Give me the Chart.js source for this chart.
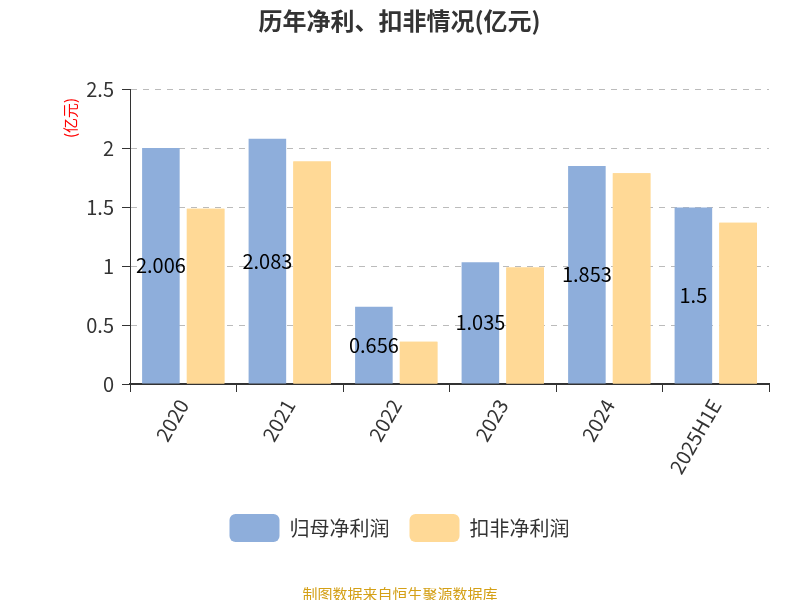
<!DOCTYPE html>
<html><head><meta charset="utf-8">
<script src="https://cdn.jsdelivr.net/npm/chart.js@4/dist/chart.umd.min.js"></script>
<style>html,body{margin:0;padding:0;background:#fff}#w{width:800px;height:600px;position:relative}</style>
</head><body><div id="w"><canvas id="c" width="800" height="600"></canvas></div>
<script>
const categories = ['2020','2021','2022','2023','2024','2025H1E'];
const netProfit = [2.006, 2.083, 0.656, 1.035, 1.853, 1.5];
const deductedProfit = [1.49, 1.89, 0.36, 0.99, 1.79, 1.37];
const seriesNames = ['归母净利润','扣非净利润'];
const FONT = '"Noto Sans CJK SC","Noto Sans",sans-serif';

const labelPlugin = {
  id: 'lbl',
  afterDatasetsDraw(chart) {
    const ctx = chart.ctx;
    const meta = chart.getDatasetMeta(0);
    ctx.save();
    ctx.font = '20px ' + FONT;
    ctx.fillStyle = '#000';
    ctx.textAlign = 'center';
    ctx.textBaseline = 'middle';
    meta.data.forEach((b, i) => {
      ctx.fillText(String(netProfit[i]), b.x, (b.y + b.base) / 2);
    });
    ctx.restore();
    chart.getDatasetMeta(1).controller.draw();
  }
};
const extraText = {
  id: 'extra',
  afterDraw(chart) {
    const ctx = chart.ctx;
    ctx.save();
    ctx.font = '15px ' + FONT;
    ctx.fillStyle = '#d4a017';
    ctx.textAlign = 'center';
    ctx.fillText('制图数据来自恒生聚源数据库', 400, 594);
    ctx.translate(70, 118);
    ctx.rotate(-Math.PI / 2);
    ctx.fillStyle = '#ff0000';
    ctx.font = '15px ' + FONT;
    ctx.textBaseline = 'middle';
    ctx.fillText('(亿元)', 0, 0);
    ctx.restore();
  }
};

new Chart(document.getElementById('c'), {
  type: 'bar',
  data: {
    labels: categories,
    datasets: [
      {label: seriesNames[0], data: netProfit, backgroundColor: '#8eaedb', barPercentage: 0.84, categoryPercentage: 0.84},
      {label: seriesNames[1], data: deductedProfit, backgroundColor: '#ffd996', barPercentage: 0.84, categoryPercentage: 0.84}
    ]
  },
  options: {
    responsive: false, animation: false,
    layout: {padding: {left: 30, right: 31, top: 0, bottom: 48}},
    plugins: {
      title: {display: true, text: '历年净利、扣非情况(亿元)', color: '#333', font: {family: FONT, size: 24, weight: 'bold'}, padding: {top: 6, bottom: 55}},
      legend: {position: 'bottom', labels: {font: {family: FONT, size: 20}, color: '#333', boxWidth: 50, boxHeight: 28, useBorderRadius: true, borderRadius: 6, padding: 20}},
      tooltip: {enabled: false}
    },
    scales: {
      y: {min: 0, max: 2.5, ticks: {stepSize: 0.5, color: '#333', font: {family: FONT, size: 20}, padding: 8, callback: v => String(v)},
          grid: {color: '#bbb', drawTicks: true, tickLength: 8, tickColor: '#333'}, border: {display: true, color: '#333', dash: [6, 6]},
          afterFit(s) { s.width = 100; }},
      x: {ticks: {color: '#333', font: {family: FONT, size: 20}, maxRotation: 60, minRotation: 60},
          grid: {display: true, drawOnChartArea: false, tickLength: 8, tickColor: '#333', offset: true},
          border: {color: '#333', width: 2},
          afterFit(s) { s.height = 110; }}
    }
  },
  plugins: [labelPlugin, extraText]
});
</script></body></html>
